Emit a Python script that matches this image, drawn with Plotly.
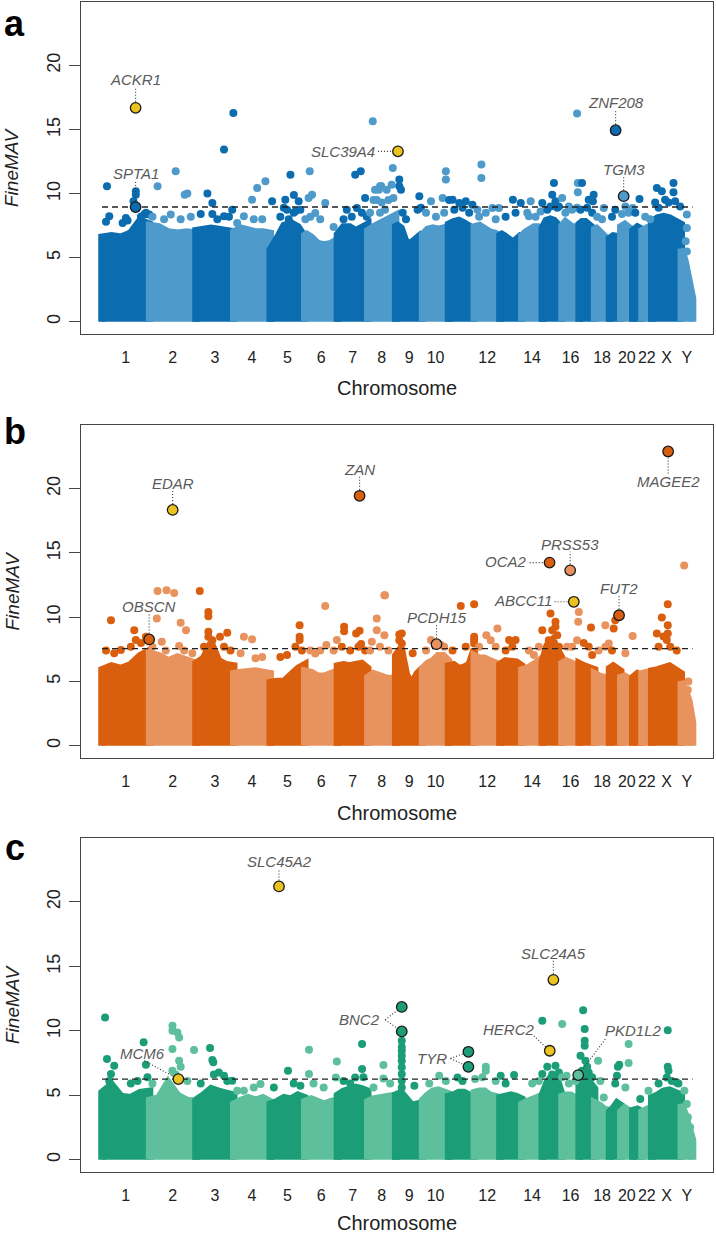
import bisect
import plotly.graph_objects as go

# ---------------- data ----------------
chrom_names = ["1", "2", "3", "4", "5", "6", "7", "8", "9", "10", "11", "12",
               "13", "14", "15", "16", "17", "18", "19", "20", "21", "22", "X", "Y"]
chrom_len_mb = [249, 243, 198, 191, 181, 171, 159, 146, 141, 136, 135, 134,
                115, 107, 103, 90, 81, 78, 59, 63, 48, 51, 155, 59]
tick_shown = ["1", "2", "3", "4", "5", "6", "7", "8", "9", "10", "12", "14",
              "16", "18", "20", "22", "X", "Y"]
y_ticks = [0, 5, 10, 15, 20]

# upper edge of the dense cloud per chromosome (FineMAV), panel a/b/c
env_a = [[6.6, 6.7, 6.6, 6.9, 7.9, 7.6], [7.5, 7.4, 7.0, 6.9, 7.0, 6.9], [7.1, 7.2, 7.3, 7.2, 7.1, 7.0],
         [7.0, 7.3, 7.1, 7.0, 7.0, 6.9], [5.6, 6.5, 7.5, 7.7, 7.4, 6.6], [6.9, 6.6, 6.1, 6.0, 6.1, 6.4],
         [6.8, 7.4, 7.4, 7.1, 7.4, 7.6], [7.1, 7.4, 7.6, 7.8, 8.1, 8.3], [7.6, 7.3, 6.1, 6.2, 6.6, 6.9],
         [6.8, 7.2, 7.3, 7.2, 7.3, 7.4], [7.6, 7.8, 7.9, 7.7, 7.5, 7.2], [7.4, 7.5, 7.2, 7.0, 6.9, 6.7],
         [6.9, 6.7, 6.4, 6.2, 6.5, 6.8], [6.7, 7.0, 7.2, 7.4, 7.4, 7.2], [7.3, 7.9, 8.0, 7.9, 7.6, 7.2],
         [7.5, 7.8, 7.6, 7.4, 7.4, 7.2], [7.6, 7.8, 7.8, 7.6, 7.4, 7.2], [7.4, 7.2, 7.0, 6.8, 6.5, 6.2],
         [6.5, 6.7, 6.7, 6.6], [7.4, 7.6, 7.3, 7.1], [7.1, 7.4, 7.2], [7.1, 7.3, 6.9],
         [7.8, 8.1, 8.2, 8.1, 7.9, 7.6], [5.7, 4.7, 3.5, 1.8]]
env_b = [[5.9, 6.2, 6.0, 6.3, 7.0, 7.4], [7.2, 7.0, 6.6, 6.9, 6.7, 6.4], [6.4, 6.8, 8.0, 6.6, 6.3, 6.2],
         [5.6, 5.7, 5.8, 5.8, 5.7, 5.6], [4.9, 5.0, 5.0, 5.5, 6.0, 6.3], [5.8, 5.7, 5.4, 5.4, 5.6, 5.8],
         [6.2, 6.3, 6.2, 6.3, 6.4, 6.0], [5.3, 5.6, 5.4, 5.3, 5.2, 5.3], [7.0, 7.6, 5.5, 4.8, 5.6, 6.0],
         [6.0, 6.4, 6.6, 7.0, 7.0, 6.6], [6.2, 6.3, 6.0, 6.1, 6.3, 7.5], [7.0, 6.8, 6.8, 6.6, 6.5, 6.3],
         [6.3, 6.6, 6.6, 6.5, 6.2], [5.9, 6.0, 6.2, 6.5, 6.8], [6.5, 7.8, 8.2, 7.5, 6.8],
         [6.4, 6.6, 6.5, 6.3, 6.1], [6.4, 6.2, 6.0, 5.9], [5.6, 5.4, 5.3, 5.2],
         [6.0, 6.2, 6.0, 5.8], [5.3, 5.4, 5.2, 5.0], [5.3, 5.6, 5.4], [5.6, 5.7, 5.5],
         [5.8, 5.9, 6.0, 6.2, 5.9, 5.6], [5.0, 4.3, 3.5, 1.8]]
env_c = [[5.2, 5.8, 4.9, 4.8, 5.2, 5.3], [4.6, 4.8, 6.0, 5.0, 4.6, 4.5], [4.6, 5.0, 5.5, 5.3, 5.2, 5.0],
         [4.3, 4.6, 4.8, 4.6, 4.8, 4.5], [4.3, 4.5, 4.8, 4.7, 5.0, 4.8], [4.5, 4.7, 4.5, 4.3, 4.5, 4.6],
         [5.0, 5.3, 5.5, 5.6, 5.5, 5.3], [4.5, 4.7, 4.8, 4.9, 4.9, 5.0], [5.0, 5.2, 4.6, 4.2, 4.3, 4.4],
         [4.6, 5.0, 5.3, 5.4, 5.2, 5.1], [4.9, 5.0, 5.2, 5.2, 5.0, 4.8], [5.2, 5.3, 5.3, 5.0, 4.9, 4.8],
         [4.8, 4.9, 5.0, 4.9, 4.7], [4.3, 4.5, 4.6, 4.8, 5.0], [5.0, 6.0, 6.5, 6.2, 5.0],
         [4.9, 5.0, 5.0, 4.8, 4.8], [5.8, 6.5, 5.9, 5.5], [4.4, 4.2, 3.9, 3.8],
         [3.7, 4.0, 4.4, 4.2], [3.7, 4.0, 3.8, 3.6], [3.8, 3.9, 3.7], [3.7, 3.9, 3.6],
         [4.8, 5.0, 5.3, 5.4, 5.2, 5.0], [4.3, 3.5, 2.5, 1.5]]

# individual variants above the cloud: genome-wide position (Mb) and FineMAV
dots_a_pos = [26, 38, 125, 177, 177, 165, 221, 247, 291, 386, 433, 447, 360, 465, 552, 578, 639, 682, 639, 688,
              743, 786, 813, 856, 891, 987, 960, 1030, 969, 1013, 1005, 1088, 1100, 1082, 1169, 1117, 1326, 1355,
              1282, 1378, 1335, 1418, 1430, 1456, 1491, 1517, 1523, 1462, 1450, 1422, 1557, 1557, 1566, 1662,
              1670, 1801, 1801, 1723, 1784, 1818, 1836, 1871, 1905, 1940, 1987, 1987, 1966, 2045, 2079, 2152,
              2193, 2245, 2236, 2306, 2367, 2358, 2375, 2410, 2393, 2488, 2492, 2492, 2445, 2514, 2575, 2549,
              2571, 2628, 2688, 2779, 2741, 2815, 2906, 2932, 2993, 2993, 2949, 3063, 3063, 3057, 3063,
              21, 134, 108, 230, 204, 264, 325, 412, 517, 578, 665, 604, 795, 839, 708, 934, 952, 1004, 1039,
              978, 1065, 1091, 1143, 1213, 1265, 1308, 1361, 1387, 1439, 1465, 1482, 1500, 1526, 1404, 1456,
              1575, 1592, 1653, 1697, 1749, 1792, 1845, 1888, 1923, 1975, 2010, 2062, 2114, 2166, 2227, 2271,
              2297, 2332, 2384, 2349, 2427, 2462, 2488, 2506, 2541, 2567, 2593, 2619, 2671, 2723, 2758, 2793,
              2845, 2871, 2897, 2915, 2967, 3002, 3028]
dots_a_val = [10.57, 8.23, 8.1, 10.18, 9.92, 9.4, 8.36, 8.36, 10.57, 11.74, 9.92, 10.0, 8.36, 8.2, 10.0, 9.27,
              13.44, 8.75, 8.23, 16.3, 8.23, 9.53, 10.44, 10.96, 9.4, 11.48, 9.53, 9.4, 8.75, 8.62, 9.9, 11.74,
              9.92, 9.66, 9.27, 8.49, 11.48, 11.74, 8.75, 9.66, 8.88, 15.65, 10.31, 10.57, 10.31, 10.7, 12.0,
              10.6, 10.3, 9.5, 11.1, 10.57, 10.31, 9.8, 8.9, 11.74, 11.1, 9.4, 9.66, 9.5, 9.53, 9.27, 9.4, 9.14,
              12.27, 11.22, 8.75, 8.88, 8.88, 9.53, 9.27, 9.4, 8.23, 9.27, 10.83, 9.92, 9.4, 9.66, 9.0, 16.25,
              10.83, 10.1, 9.0, 10.83, 9.92, 9.53, 9.4, 8.88, 8.75, 8.88, 9.0, 9.58, 10.44, 10.18, 10.83, 10.1,
              9.53, 8.36, 7.32, 6.28, 5.49,
              7.8, 7.9, 7.7, 8.5, 8.2, 8.2, 8.0, 8.0, 8.4, 8.4, 8.2, 8.0, 8.0, 8.0, 7.7, 8.2, 8.9, 8.5, 8.75,
              8.0, 8.0, 8.2, 8.0, 7.4, 8.0, 8.2, 8.5, 8.2, 9.5, 9.3, 8.75, 9.5, 9.66, 8.5, 8.5,
              8.5, 8.0, 8.75, 8.5, 8.2, 8.5, 8.75, 8.9, 8.5, 8.2, 8.5, 8.0, 8.2, 8.5, 8.5, 8.2,
              8.6, 8.75, 8.9, 9.0, 8.5, 8.75, 8.9, 8.75, 8.9, 8.5, 8.2, 8.0, 8.2, 8.4, 8.5, 8.5,
              8.2, 8.0, 9.3, 8.9, 9.3, 9.4, 9.0]
dots_b_pos = [47, 99, 169, 177, 230, 291, 338, 378, 287, 412, 440, 313, 404, 512, 557, 557, 557, 557, 618, 656,
              743, 786, 804, 969, 1035, 1035, 1035, 1169, 1117, 1230, 1175, 1268, 1268, 1331, 1349, 1357, 1479,
              1439, 1439, 1479, 1413, 1482, 1570, 1570, 1570, 1557, 1723, 1775, 1879, 1949, 1949, 1949, 1949,
              2013, 2071, 2132, 2166, 2306, 2262, 2349, 2375, 2375, 2358, 2384, 2497, 2494, 2436, 2561, 2567,
              2636, 2654, 2680, 2688, 2779, 2963, 2932, 2963, 2963, 2958, 2906, 3049, 3071, 3068,
              21, 64, 151, 204, 264, 334, 430, 473, 534, 578, 639, 673, 726, 839, 934, 1013, 1047, 1091, 1143,
              1213, 1256, 1300, 1343, 1378, 1404, 1456, 1500, 1557, 1627, 1697, 1792, 1836, 1905, 1975, 2036,
              2062, 2114, 2149, 2236, 2288, 2340, 2367, 2393, 2462, 2488, 2523, 2549, 2601, 2636, 2671, 2741,
              2915, 2941, 2976, 3010]
dots_b_val = [9.77, 7.44, 8.99, 8.22, 8.48, 12.04, 12.09, 11.89, 9.9, 9.56, 8.99, 8.09, 7.75, 12.04, 10.41,
              10.08, 8.86, 8.48, 8.48, 8.79, 8.48, 8.29, 6.8, 7.05, 9.38, 8.48, 8.22, 10.88, 7.18, 8.22, 7.83,
              9.25, 8.91, 8.73, 8.94, 7.91, 11.71, 9.9, 8.99, 8.6, 8.09, 11.7, 8.74, 7.96, 7.2, 8.66, 8.22,
              7.83, 10.88, 11.0, 8.48, 8.22, 7.96, 8.6, 9.12, 8.22, 8.22, 8.99, 7.05, 10.28, 9.64, 9.25, 8.99,
              8.6, 10.41, 9.64, 7.7, 9.2, 7.05, 9.38, 7.96, 9.12, 9.77, 8.53, 11.0, 9.97, 9.38, 8.73, 8.22,
              8.73, 14.03, 4.99, 4.34,
              7.4, 7.2, 7.7, 8.0, 7.7, 7.4, 7.4, 7.2, 7.7, 8.2, 7.7, 7.4, 7.2, 6.9, 6.9, 7.7, 7.4, 7.4, 7.4,
              7.4, 7.7, 7.4, 7.7, 7.4, 7.4, 7.7, 7.4, 8.2, 7.2, 7.4, 7.7, 7.4, 7.7, 7.7, 8.2,
              7.7, 7.4, 7.7, 7.4, 7.7, 8.2, 8.0, 7.7, 7.7, 8.2, 8.0, 7.7, 7.4, 7.7, 7.4, 7.2,
              7.7, 8.5, 7.7, 7.4]
dots_c_pos = [16, 26, 64, 218, 230, 47, 369, 369, 395, 404, 369, 482, 404, 369, 566, 578, 583, 612, 639, 682,
              743, 830, 974, 1039, 1084, 1084, 1230, 1225, 1362, 1362, 1326, 1474, 1474,
              1570, 1570, 1570, 1570, 1570, 1570, 1570, 1570, 1570, 1636, 1766, 1862, 1954, 2010, 2010, 2088,
              2158, 2306, 2306, 2410, 2375, 2393, 2433, 2520, 2528, 2528, 2528, 2506, 2532, 2549, 2598, 2628,
              2702, 2709, 2697, 2758, 2758, 2819, 2862, 2963, 2963, 2967, 2958, 3010, 3050, 3063, 3068, 3080,
              3080,
              38, 151, 186, 238, 264, 386, 412, 447, 517, 586, 656, 708, 795, 900, 1004, 1108, 1161, 1265,
              1300, 1369, 1422, 1509, 1714, 1801, 1888, 1992, 2062, 2114, 2253, 2288, 2332, 2358, 2410, 2445,
              2480, 2514, 2541, 2567, 2610, 2688, 2741, 2915, 2984, 3019]
dots_c_val = [11.03, 7.8, 7.29, 9.1, 7.36, 6.64, 10.39, 10.0, 9.87, 9.48, 8.58, 8.5, 7.67, 6.9, 8.66, 7.73,
              7.55, 6.77, 6.51, 6.12, 5.35, 5.87, 6.9, 5.74, 8.53, 6.64, 7.62, 6.38, 8.97, 7.03, 6.38, 7.34,
              6.3, 9.22, 8.75, 8.45, 8.06, 7.67, 7.16, 6.64, 6.12, 5.6, 5.74, 6.51, 6.38, 6.25, 7.21, 6.9,
              6.51, 6.56, 10.78, 6.64, 10.52, 7.29, 6.77, 6.51, 11.6, 10.13, 9.22, 8.84, 8.06, 7.67, 6.77,
              7.67, 4.83, 7.21, 7.36, 6.51, 8.97, 7.49, 4.7, 5.35, 10.05, 7.21, 6.9, 6.38, 5.99, 5.35, 4.32,
              3.28, 2.51, 1.73,
              6.1, 5.9, 6.1, 6.4, 5.9, 6.6, 7.2, 6.1, 5.9, 6.6, 6.1, 5.35, 5.6, 5.6, 5.9, 5.9, 5.6, 6.1,
              5.9, 6.4, 5.6, 5.9, 5.9, 6.1, 6.1, 6.4, 6.1, 5.9, 5.9, 6.1, 7.2, 6.6, 6.4, 5.9,
              6.1, 6.9, 7.2, 6.4, 6.1, 5.9, 5.6, 5.9, 6.1, 5.9]

thresholds = [8.95, 7.55, 6.25]

hit_a_gene = ["ACKR1", "SPTA1", "SLC39A4", "ZNF208", "TGM3"]
hit_a_pos = [176, 176, 1550, 2690, 2732]
hit_a_val = [16.7, 8.95, 13.3, 14.95, 9.8]
hit_a_yellow = [True, False, True, False, False]

hit_b_gene = ["EDAR", "ZAN", "MAGEE2", "OCA2", "PRSS53", "ABCC11", "FUT2", "OBSCN", "PCDH15"]
hit_b_pos = [370, 1349, 2965, 2344, 2452, 2471, 2708, 247, 1752]
hit_b_val = [18.35, 19.45, 22.9, 14.25, 13.65, 11.2, 10.15, 8.27, 7.9]
hit_b_yellow = [True, False, False, False, False, True, False, False, False]

hit_c_gene = ["SLC45A2", "SLC24A5", "BNC2", "BNC2", "TYR", "TYR", "HERC2", "PKD1L2", "MCM6"]
hit_c_pos = [927, 2364, 1570, 1570, 1919, 1919, 2345, 2494, 400]
hit_c_val = [21.2, 13.95, 11.85, 9.95, 8.37, 7.2, 8.45, 6.56, 6.25]
hit_c_yellow = [True, True, False, False, False, False, True, False, True]

# ---------------- styling / layout ----------------
W, H = 716, 1234
FONT = "Liberation Sans, Arial, sans-serif"
YELLOW = "#ECC21E"
panel_colors = [("#0B6DB0", "#4E9BCB"), ("#D95F0E", "#E8925E"), ("#1B9E77", "#5EBF9C")]
x_dom = [81 / W, 713 / W]
y_doms_px = [(2, 334), (425, 758), (838, 1172)]
X_RANGE = [-110, 3200]
Y_RANGE = [-0.96, 24.96]

starts = []
s = 0
for L in chrom_len_mb:
    starts.append(s)
    s += L
genome_len = s
centers = {n: st + L / 2 for n, st, L in zip(chrom_names, starts, chrom_len_mb)}


def chrom_idx(g):
    return max(0, bisect.bisect_right(starts, g) - 1)


fig = go.Figure()
envs = [env_a, env_b, env_c]
dots = [(dots_a_pos, dots_a_val), (dots_b_pos, dots_b_val), (dots_c_pos, dots_c_val)]
hits = [(hit_a_pos, hit_a_val, hit_a_yellow), (hit_b_pos, hit_b_val, hit_b_yellow),
        (hit_c_pos, hit_c_val, hit_c_yellow)]

# label specs (text, x, y, xanchor) and leader segments per panel
label_specs = [
    [("ACKR1", 176, 18.9, "center"), ("SPTA1", 176, 11.6, "center"), ("SLC39A4", 1439, 13.3, "right"),
     ("ZNF208", 2690, 17.1, "center"), ("TGM3", 2732, 11.9, "center")],
    [("EDAR", 370, 20.4, "center"), ("ZAN", 1349, 21.5, "center"), ("MAGEE2", 2965, 20.6, "center"),
     ("OCA2", 2234, 14.3, "right"), ("PRSS53", 2452, 15.65, "center"), ("ABCC11", 2365, 11.3, "right"),
     ("FUT2", 2708, 12.2, "center"), ("OBSCN", 247, 10.8, "center"), ("PCDH15", 1752, 10.0, "center")],
    [("SLC45A2", 927, 23.1, "center"), ("SLC24A5", 2364, 16.0, "center"), ("BNC2", 1465, 10.85, "right"),
     ("TYR", 1817, 7.85, "right"), ("HERC2", 2131, 10.1, "center"), ("PKD1L2", 2784, 10.0, "center"),
     ("MCM6", 212, 8.2, "center")],
]
leader_specs = [
    [(176, 16.7, 176, 18.35), (176, 8.95, 176, 11.05), (1445, 13.3, 1550, 13.3),
     (2690, 14.95, 2690, 16.55), (2732, 9.8, 2732, 11.35)],
    [(370, 18.35, 370, 19.85), (1349, 19.45, 1349, 20.95), (2965, 22.9, 2965, 21.15),
     (2240, 14.25, 2344, 14.25), (2452, 13.65, 2452, 15.1), (2370, 11.2, 2471, 11.2),
     (2708, 10.15, 2708, 11.65), (247, 8.27, 247, 10.25), (1752, 7.9, 1752, 9.45)],
    [(927, 21.2, 927, 22.55), (2364, 13.95, 2364, 15.45), (1483, 10.85, 1570, 11.85),
     (1483, 10.85, 1570, 9.95), (1825, 7.85, 1919, 8.37), (1825, 7.85, 1919, 7.2),
     (2262, 9.6, 2345, 8.45), (2636, 9.35, 2494, 6.56), (221, 7.67, 400, 6.25)],
]

annotations = []
for p in range(3):
    suf = "" if p == 0 else str(p + 1)
    xa, ya = "x" + suf, "y" + suf
    dark, light = panel_colors[p]
    # dense cloud per chromosome
    for i, (st, L) in enumerate(zip(starts, chrom_len_mb)):
        env = envs[p][i]
        n = len(env)
        xs = [st] + [st + L * k / (n - 1) for k in range(n)] + [st + L]
        ys = [0] + env + [0]
        col = dark if i % 2 == 0 else light
        fig.add_trace(go.Scatter(x=xs, y=ys, mode="lines", fill="toself", fillcolor=col,
                                 line=dict(color=col, width=7.5), hoverinfo="skip",
                                 showlegend=False, xaxis=xa, yaxis=ya))
    # scattered variants
    dp, dv = dots[p]
    cols = [dark if chrom_idx(g) % 2 == 0 else light for g in dp]
    fig.add_trace(go.Scatter(x=dp, y=dv, mode="markers",
                             marker=dict(size=8, color=cols, line=dict(width=0)),
                             showlegend=False, hoverinfo="skip", xaxis=xa, yaxis=ya))
    # threshold
    fig.add_trace(go.Scatter(x=[0, genome_len], y=[thresholds[p]] * 2, mode="lines",
                             line=dict(color="#222222", width=1.4, dash="6px,4px"),
                             showlegend=False, hoverinfo="skip", xaxis=xa, yaxis=ya))
    # leaders
    for (x0, y0, x1, y1) in leader_specs[p]:
        fig.add_trace(go.Scatter(x=[x0, x1], y=[y0, y1], mode="lines",
                                 line=dict(color="#333333", width=1.1, dash="1px,2px"),
                                 showlegend=False, hoverinfo="skip", xaxis=xa, yaxis=ya))
    # highlighted variants
    hp, hv, hy = hits[p]
    hcols = [YELLOW if yy else (dark if chrom_idx(g) % 2 == 0 else light) for g, yy in zip(hp, hy)]
    fig.add_trace(go.Scatter(x=hp, y=hv, mode="markers",
                             marker=dict(size=10.5, color=hcols, line=dict(width=1.3, color="#1a1a1a")),
                             showlegend=False, hoverinfo="skip", xaxis=xa, yaxis=ya))
    for (txt, lx, ly, anc) in label_specs[p]:
        annotations.append(dict(x=lx, y=ly, xref=xa, yref=ya, text="<i>%s</i>" % txt,
                                showarrow=False, xanchor=anc, yanchor="middle",
                                font=dict(family=FONT, size=15, color="#5a5a5a")))

    top, bot = y_doms_px[p]
    dom = [1 - bot / H, 1 - top / H]
    fig.layout["xaxis" + suf] = dict(domain=x_dom, range=X_RANGE, anchor=ya, showgrid=False,
                                     zeroline=False, showline=True, mirror=True, linecolor="#444444",
                                     linewidth=1.3, ticks="",
                                     tickvals=[centers[n] for n in tick_shown], ticktext=tick_shown,
                                     tickfont=dict(family=FONT, size=16, color="#222222"),
                                     ticklabelstandoff=9)
    fig.layout["yaxis" + suf] = dict(domain=dom, range=Y_RANGE, anchor=xa, showgrid=False,
                                     zeroline=False, showline=True, mirror=True, linecolor="#444444",
                                     linewidth=1.3, ticks="outside", ticklen=11, tickwidth=1.2,
                                     tickcolor="#444444", tickvals=y_ticks, tickangle=-90,
                                     tickfont=dict(family=FONT, size=18, color="#222222"),
                                     ticklabelstandoff=2)
    # axis titles and panel letter
    annotations.append(dict(x=(81 + 713) / 2 / W, y=1 - [388, 813, 1223][p] / H, xref="paper",
                            yref="paper", text="Chromosome", showarrow=False, xanchor="center",
                            yanchor="middle", font=dict(family=FONT, size=20, color="#222222")))
    annotations.append(dict(x=12 / W, y=1 - (top + bot) / 2 / H, xref="paper", yref="paper",
                            text="<i>FineMAV</i>", textangle=-90, showarrow=False, xanchor="center",
                            yanchor="middle", font=dict(family=FONT, size=19, color="#222222")))
    annotations.append(dict(x=15 / W, y=1 - [1, 409, 825][p] / H, xref="paper", yref="paper",
                            text="<b>%s</b>" % "abc"[p], showarrow=False, xanchor="center",
                            yanchor="top", font=dict(family=FONT, size=36, color="#000000")))

fig.update_layout(width=W, height=H, margin=dict(l=0, r=0, t=0, b=0), autosize=False,
                  paper_bgcolor="white", plot_bgcolor="white", annotations=annotations,
                  showlegend=False)
fig.write_html("out.html", config={"displayModeBar": False},
               post_script="document.body.style.margin='0px';document.body.style.padding='0px';"
                           "document.documentElement.style.overflow='hidden';")
